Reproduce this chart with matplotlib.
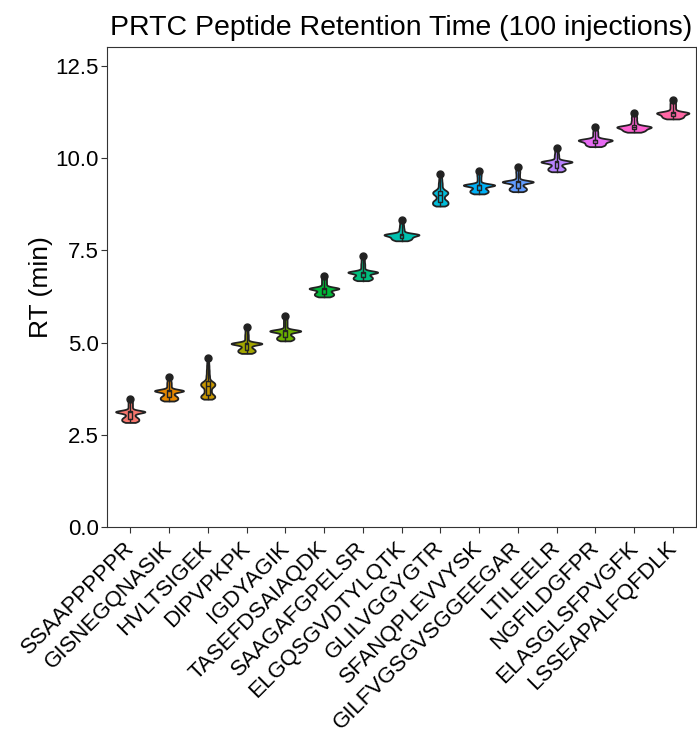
#!/usr/bin/env python3
"""PRTC peptide retention time violins (100 injections)."""

import matplotlib
import matplotlib.pyplot as plt
import matplotlib.transforms as mtransforms
import numpy as np

matplotlib.use("Agg")

plt.rcParams["font.family"] = ["Liberation Sans", "DejaVu Sans"]

peptides = [
    "SSAAPPPPPR", "GISNEGQNASIK", "HVLTSIGEK", "DIPVPKPK", "IGDYAGIK",
    "TASEFDSAIAQDK", "SAAGAFGPELSR", "ELGQSGVDTYLQTK", "GLILVGGYGTR",
    "SFANQPLEVVYSK", "GILFVGSGVSGGEEGAR", "LTILEELR", "NGFILDGFPR",
    "ELASGLSFPVGFK", "LSSEAPALFQFDLK",
]

# ggplot hue palette, 15 levels
colors = [
    "#F8766D", "#E58700", "#C99800", "#A3A500", "#6BB100",
    "#00BA38", "#00BF7D", "#00C0AF", "#00BCD8", "#00B0F6",
    "#619CFF", "#B983FF", "#E76BF3", "#FD61D1", "#FF67A4",
]

# RT readings (min) per peptide, estimated from the violin shapes
rt_ssaappppr = [
    2.84, 2.85, 2.86, 2.87, 2.88, 2.89, 2.90, 2.91, 2.92, 2.93, 2.94, 2.95, 2.96, 2.97, 2.98,
    3.00, 3.02, 3.04, 3.06, 3.08, 3.10,
    3.12, 3.12, 3.13, 3.13, 3.13, 3.13, 3.13, 3.13, 3.13, 3.14, 3.14, 3.14, 3.15,
    3.18, 3.22, 3.26, 3.30, 3.34, 3.38, 3.42, 3.47]
rt_gisnegqnasik = [
    3.42, 3.43, 3.44, 3.45, 3.46, 3.47, 3.48, 3.49, 3.50, 3.51, 3.52, 3.53, 3.54, 3.55, 3.56,
    3.58, 3.60, 3.62, 3.64, 3.66,
    3.68, 3.69, 3.69, 3.70, 3.70, 3.70, 3.70, 3.70, 3.70, 3.70, 3.71, 3.71, 3.72,
    3.75, 3.79, 3.83, 3.87, 3.91, 3.95, 4.00, 4.06]
rt_hvltsigek = [
    3.47, 3.48, 3.49, 3.50, 3.51, 3.52, 3.53, 3.54, 3.55, 3.56, 3.57, 3.58, 3.59, 3.60,
    3.62, 3.64, 3.66, 3.68, 3.70, 3.72, 3.74, 3.76, 3.78,
    3.80, 3.81, 3.82, 3.83, 3.84, 3.85, 3.86, 3.87, 3.88, 3.89, 3.90, 3.91, 3.92, 3.93, 3.94,
    3.96, 3.98,
    4.01, 4.05, 4.09, 4.13, 4.18, 4.23, 4.28, 4.34, 4.40, 4.47, 4.58]
rt_dipvpkpk = [
    4.71, 4.72, 4.73, 4.74, 4.75, 4.76, 4.77, 4.78, 4.79, 4.80, 4.81, 4.82, 4.83, 4.84,
    4.86, 4.88, 4.90, 4.92, 4.94, 4.96,
    4.97, 4.97, 4.97, 4.98, 4.98, 4.98, 4.98, 4.98, 4.98, 4.98, 4.99, 4.99, 5.00,
    5.04, 5.09, 5.14, 5.19, 5.24, 5.30, 5.36, 5.42]
rt_igdyagik = [
    5.05, 5.06, 5.07, 5.08, 5.09, 5.10, 5.11, 5.12, 5.13, 5.14, 5.15, 5.16, 5.17, 5.18,
    5.20, 5.22, 5.24, 5.26, 5.28, 5.30,
    5.31, 5.31, 5.31, 5.32, 5.32, 5.32, 5.32, 5.32, 5.32, 5.32, 5.33, 5.33, 5.34,
    5.37, 5.42, 5.47, 5.52, 5.57, 5.62, 5.67, 5.72]
rt_tasefdsaiaqdk = [
    6.24, 6.25, 6.26, 6.27, 6.28, 6.29, 6.30, 6.31, 6.32, 6.33, 6.34, 6.35, 6.36, 6.37,
    6.39, 6.41, 6.43, 6.45,
    6.46, 6.46, 6.47, 6.47, 6.47, 6.47, 6.47, 6.47, 6.48, 6.48, 6.49,
    6.52, 6.56, 6.60, 6.64, 6.68, 6.72, 6.76, 6.80]
rt_saagafgpelsr = [
    6.68, 6.69, 6.70, 6.71, 6.72, 6.73, 6.74, 6.75, 6.76, 6.77, 6.78, 6.79, 6.80, 6.81,
    6.83, 6.85, 6.87, 6.89,
    6.90, 6.90, 6.91, 6.91, 6.91, 6.91, 6.91, 6.91, 6.92, 6.92, 6.93,
    6.96, 7.01, 7.06, 7.11, 7.16, 7.22, 7.28, 7.35]
rt_elgqsgvdtylqtk = [
    7.76, 7.77, 7.78, 7.79, 7.80, 7.81, 7.82, 7.83, 7.84, 7.85, 7.86, 7.87, 7.88, 7.89,
    7.90, 7.91,
    7.92, 7.92, 7.93, 7.93, 7.93, 7.93, 7.93, 7.93, 7.94, 7.94, 7.95,
    7.98, 8.02, 8.06, 8.10, 8.15, 8.20, 8.26, 8.32]
rt_glilvggygtr = [
    8.70, 8.71, 8.72, 8.73, 8.74, 8.75, 8.76, 8.77, 8.78, 8.79, 8.80, 8.81, 8.82, 8.83,
    8.84, 8.85, 8.86, 8.88, 8.90, 8.92, 8.94, 8.96, 8.98,
    9.00, 9.01, 9.02, 9.03, 9.04, 9.05, 9.06, 9.07, 9.08, 9.09, 9.10, 9.11, 9.12, 9.14, 9.16,
    9.19, 9.23, 9.27, 9.31, 9.35, 9.40, 9.45, 9.51, 9.57]
rt_sfanqplevvysk = [
    9.03, 9.04, 9.05, 9.06, 9.07, 9.08, 9.09, 9.10, 9.11, 9.12, 9.13, 9.14, 9.15, 9.16,
    9.18, 9.20, 9.22, 9.24,
    9.25, 9.26, 9.26, 9.27, 9.27, 9.27, 9.27, 9.27, 9.27, 9.27, 9.28, 9.28, 9.29,
    9.32, 9.37, 9.42, 9.47, 9.52, 9.56, 9.61, 9.66]
rt_gilfvgsgvsggeegar = [
    9.09, 9.10, 9.11, 9.12, 9.13, 9.14, 9.15, 9.16, 9.17, 9.18, 9.19, 9.20, 9.21, 9.22,
    9.24, 9.26, 9.28, 9.30, 9.32, 9.34,
    9.35, 9.35, 9.35, 9.36, 9.36, 9.36, 9.36, 9.36, 9.36, 9.36, 9.37, 9.37, 9.38,
    9.41, 9.46, 9.51, 9.56, 9.61, 9.65, 9.70, 9.75]
rt_ltileelr = [
    9.63, 9.64, 9.65, 9.66, 9.67, 9.68, 9.69, 9.70, 9.71, 9.72, 9.73, 9.74, 9.75, 9.76,
    9.78, 9.80, 9.82, 9.84, 9.86, 9.88,
    9.89, 9.89, 9.89, 9.90, 9.90, 9.90, 9.90, 9.90, 9.90, 9.90, 9.91, 9.91, 9.92,
    9.95, 9.99, 10.03, 10.07, 10.11, 10.16, 10.21, 10.26]
rt_ngfildgfpr = [
    10.31, 10.32, 10.33, 10.34, 10.35, 10.36, 10.37, 10.38, 10.39, 10.40, 10.41, 10.42,
    10.43, 10.44, 10.45, 10.46, 10.47,
    10.48, 10.48, 10.49, 10.49, 10.49, 10.49, 10.49, 10.49, 10.50, 10.50, 10.51,
    10.54, 10.58, 10.62, 10.66, 10.70, 10.74, 10.79, 10.85]
rt_elasglsfpvgfk = [
    10.70, 10.71, 10.72, 10.73, 10.74, 10.75, 10.76, 10.77, 10.78, 10.79, 10.80, 10.81,
    10.82, 10.83,
    10.84, 10.84, 10.85, 10.85, 10.85, 10.85, 10.85, 10.86, 10.87,
    10.90, 10.94, 10.98, 11.02, 11.07, 11.11, 11.16, 11.21]
rt_lsseapalfqfdlk = [
    11.06, 11.07, 11.08, 11.09, 11.10, 11.11, 11.12, 11.13, 11.14, 11.15, 11.16, 11.17,
    11.18, 11.19, 11.20, 11.21,
    11.22, 11.22, 11.23, 11.23, 11.23, 11.23, 11.23, 11.24, 11.25,
    11.28, 11.32, 11.36, 11.40, 11.44, 11.48, 11.52, 11.57]

rt_data = [
    rt_ssaappppr, rt_gisnegqnasik, rt_hvltsigek, rt_dipvpkpk, rt_igdyagik,
    rt_tasefdsaiaqdk, rt_saagafgpelsr, rt_elgqsgvdtylqtk, rt_glilvggygtr,
    rt_sfanqplevvysk, rt_gilfvgsgvsggeegar, rt_ltileelr, rt_ngfildgfpr,
    rt_elasglsfpvgfk, rt_lsseapalfqfdlk,
]

y_ticks = [0.0, 2.5, 5.0, 7.5, 10.0, 12.5]


def kde(values, grid, bw):
    """Gaussian kernel density on grid."""
    v = np.asarray(values)
    z = (grid[:, None] - v[None, :]) / bw
    return np.exp(-0.5 * z ** 2).sum(axis=1) / (len(v) * bw * np.sqrt(2 * np.pi))


def main():
    fig = plt.figure(figsize=(6.97, 7.32), dpi=100)
    ax = fig.add_axes([107 / 697, 1 - 527.3 / 732, 589 / 697, 480 / 732])

    bw = 0.034
    grids, dens = [], []
    for vals in rt_data:
        g = np.linspace(min(vals), max(vals), 400)
        grids.append(g)
        dens.append(kde(vals, g, bw))
    dmax = max(d.max() for d in dens)

    # violins, area-scaled like ggplot's default
    positions = np.arange(1, len(peptides) + 1)
    for pos, g, d, col in zip(positions, grids, dens, colors):
        half = 0.45 * d / dmax
        ax.fill_betweenx(g, pos - half, pos + half, facecolor=col,
                         edgecolor="#222222", linewidth=1.3, zorder=2)

    bp = ax.boxplot(rt_data, positions=positions, widths=0.1, patch_artist=True,
                    showcaps=False, whis=(0, 98), zorder=3,
                    medianprops=dict(color="#222222", linewidth=1.0),
                    whiskerprops=dict(color="#222222", linewidth=1.0),
                    boxprops=dict(edgecolor="#222222", linewidth=1.0),
                    flierprops=dict(marker="o", markerfacecolor="#222222",
                                    markeredgecolor="#222222", markersize=5))
    for patch, col in zip(bp["boxes"], colors):
        patch.set_facecolor(col)

    ax.set_xlim(0.4, 15.6)
    ax.set_ylim(0, 13)
    ax.set_xticks(positions)
    ax.set_xticklabels(peptides, rotation=45, ha="right", va="top",
                       fontsize=16, color="black")
    ax.set_yticks(y_ticks)
    ax.set_yticklabels([f"{t:.1f}" for t in y_ticks], fontsize=16, color="black")
    ax.tick_params(axis="both", direction="out", length=4, width=0.8,
                   color="#333333", pad=2)
    # nudge rotated labels so their ends sit just right of the ticks
    offset = mtransforms.ScaledTranslation(8 / 100, -2 / 100, fig.dpi_scale_trans)
    for lbl in ax.get_xticklabels():
        lbl.set_transform(lbl.get_transform() + offset)
    for sp in ax.spines.values():
        sp.set_color("#333333")
        sp.set_linewidth(0.8)

    ax.set_ylabel("RT (min)", fontsize=19, labelpad=2)
    ax.set_title("PRTC Peptide Retention Time (100 injections)", fontsize=20.5, pad=9)

    fig.savefig("out.png", dpi=100)
    plt.close(fig)


if __name__ == "__main__":
    main()
